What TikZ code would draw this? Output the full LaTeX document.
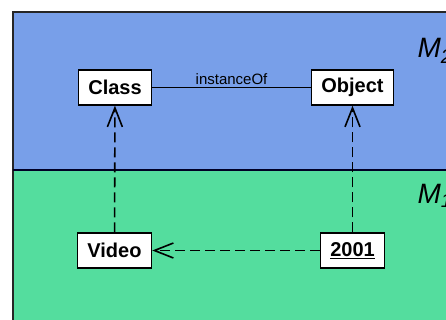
\documentclass[tikz,border=0pt]{standalone}
\usepackage{fontspec}
\setmainfont{Liberation Sans}
\usepackage{tikz}
\usetikzlibrary{arrows.meta}
\definecolor{levelblue}{RGB}{120,159,233}
\definecolor{levelgreen}{RGB}{84,221,158}

\begin{document}
\begin{tikzpicture}[x=1pt,y=-1pt]
\useasboundingbox (0,0) rectangle (446,320);

% metalevels
\fill[levelblue] (13,12) rectangle (470,170);
\fill[levelgreen] (13,170) rectangle (470,340);
\draw[line width=2pt, black!85] (470,12) -- (13,12) -- (13,340);
\draw[line width=2pt, black!85!blue] (13,170) -- (470,170);

\node[anchor=base west, font=\fontsize{28}{28}\selectfont\itshape] (m2) at (414,58) {M\textsubscript{2}};
\node[anchor=base west, font=\fontsize{28}{28}\selectfont\itshape] (m1) at (414,203) {M\textsubscript{1}};

\begin{scope}[every node/.style={rectangle,draw,fill=white,line width=1.4pt,inner xsep=10pt,minimum height=35pt,font=\fontsize{20}{20}\selectfont\bfseries}]
\node (class) at (115,87.5) {Class};
\node (object) at (352.5,87.5) {Object};
\node (video) at (114.5,250.5) {Video};
\node (year) at (352.5,250.5) {\underline{2001}};
\end{scope}

\draw[line width=1.3pt] (class) -- node[above, inner sep=2pt, font=\fontsize{15}{15}\selectfont] (inst) {instanceOf} (object);

\draw[line width=1.6pt, dash pattern=on 10pt off 5pt, -{Straight Barb[length=19pt,width=15pt]}] (video) -- (class);
\draw[line width=1.6pt, dash pattern=on 10pt off 5pt, -{Straight Barb[length=19pt,width=15pt]}] (year) -- (object);
\draw[line width=1.6pt, dash pattern=on 10pt off 5pt, -{Straight Barb[length=19pt,width=15pt]}] (year) -- (video);

\end{tikzpicture}
\end{document}
